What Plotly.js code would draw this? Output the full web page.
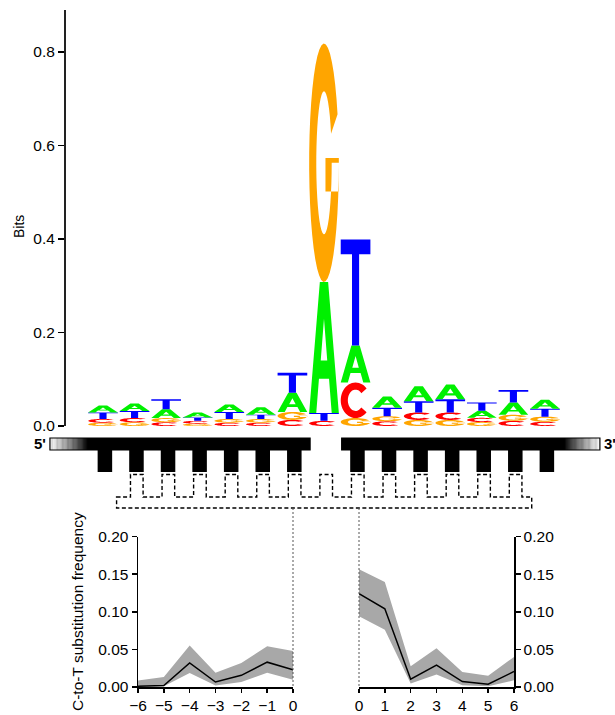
<!DOCTYPE html>
<html><head><meta charset="utf-8">
<script src="https://cdn.plot.ly/plotly-3.0.1.min.js"></script>
<style>html,body{margin:0;padding:0;background:#fff}</style>
</head><body><div id="chart" style="width:615px;height:715px"></div>
<script>
// ---------------- DATA ----------------
const logoColumns = [1,2,3,4,5,6,7,8,9,10,11,12,13,14,15];
const bitsA = [0.015,0.016,0.019,0.011,0.016,0.016,0.041,0.280,0.079,0.024,0.032,0.032,0.015,0.026,0.019];
const bitsC = [0.008,0.009,0.008,0.006,0.007,0.007,0.013,0.011,0.076,0.010,0.016,0.016,0.009,0.011,0.009];
const bitsG = [0.007,0.008,0.009,0.005,0.008,0.008,0.017,0.510,0.017,0.011,0.013,0.013,0.0085,0.013,0.011];
const bitsT = [0.014,0.015,0.021,0.007,0.015,0.009,0.043,0.017,0.227,0.018,0.024,0.028,0.018,0.027,0.017];
const bitTicks = [0, 0.2, 0.4, 0.6, 0.8];
const bitTickText = ['0.0','0.2','0.4','0.6','0.8'];

const topStrandColumns = [1,2,3,4,5,6,7,9,10,11,12,13,14,15];
const bottomStrandColumns = [2,3,4,5,6,7,8,9,10,11,12,13,14];

const upstreamPos = [-6,-5,-4,-3,-2,-1,0];
const upstreamMean  = [0.001,0.002,0.032,0.0066,0.0155,0.033,0.023];
const upstreamUpper = [0.0088,0.0133,0.0553,0.019,0.032,0.054,0.048];
const upstreamLower = [0.0,0.001,0.0186,0.002,0.0066,0.019,0.0097];

const downstreamPos = [0,1,2,3,4,5,6];
const downstreamMean  = [0.124,0.104,0.0103,0.029,0.0072,0.0036,0.0206];
const downstreamUpper = [0.1566,0.1396,0.0277,0.0515,0.020,0.0148,0.040];
const downstreamLower = [0.094,0.076,0.0045,0.0166,0.0022,0.001,0.009];

const freqTicks = [0, 0.05, 0.10, 0.15, 0.20];
const freqTickText = ['0.00','0.05','0.10','0.15','0.20'];

// ---------------- LAYOUT HELPERS ----------------
const W = 615, H = 715;
const py = y => (H - y) / H;   // pixel row -> paper
const px = x => x / W;         // pixel col -> paper
const FONT = 'Liberation Sans, Arial, Helvetica, sans-serif';
const colors = {A:'#00F000', C:'#FF0000', G:'#FFA500', T:'#0000FF'};

// glyph outlines in a unit box (u right, v up)
function arcRing(a0, a1, rix, riy, n) {
  const pts = [];
  for (let i = 0; i <= n; i++) { const t = (a0 + (a1 - a0) * i / n) * Math.PI / 180; pts.push([0.5 + 0.5*Math.cos(t), 0.5 + 0.5*Math.sin(t)]); }
  for (let i = n; i >= 0; i--) { const t = (a0 + (a1 - a0) * i / n) * Math.PI / 180; pts.push([0.5 + rix*Math.cos(t), 0.5 + riy*Math.sin(t)]); }
  return pts;
}
const glyphs = {
  A: [[[0,0],[0.36,1],[0.64,1],[1,0],[0.76,0],[0.67,0.26],[0.33,0.26],[0.24,0]],
      [[0.39,0.40],[0.61,0.40],[0.5,0.72]]],
  T: [[[0,1],[1,1],[1,0.86],[0.62,0.86],[0.62,0],[0.38,0],[0.38,0.86],[0,0.86]]],
  C: [arcRing(42, 318, 0.26, 0.30, 40)],
  G: [arcRing(24, 360, 0.26, 0.30, 40), [[0.55,0.38],[1,0.38],[1,0.52],[0.55,0.52]]]
};
function glyphPath(letter, p, base, h) {
  const hw = 0.47;
  return glyphs[letter].map(r => 'M' + r.map(([u,v]) =>
    (p - hw + u*2*hw).toFixed(5) + ',' + (base + v*h).toFixed(6)).join('L') + 'Z').join('');
}

const shapes = [];
// sequence logo letters, stacked smallest at bottom
logoColumns.forEach((p, i) => {
  const stack = [['A',bitsA[i]],['C',bitsC[i]],['G',bitsG[i]],['T',bitsT[i]]].sort((a,b) => a[1]-b[1]);
  let base = 0;
  stack.forEach(([L, h]) => {
    shapes.push({type:'path', xref:'x', yref:'y', path: glyphPath(L, p, base, h),
      fillcolor: colors[L], line:{width:0}, layer:'above'});
    base += h;
  });
});

// top strand (black comb with gradient ends)
const barTop = py(438), barBot = py(450), toothBot = py(472);
const segs = [[topStrandColumns[0]-1.68, 7.56], [8.56, topStrandColumns[topStrandColumns.length-1]+1.74]];
segs.forEach(([a,b]) => shapes.push({type:'rect', xref:'x', yref:'paper', x0:a, x1:b, y0:barBot, y1:barTop,
  fillcolor:'#000', line:{width:0}}));
function gradient(a, b, fromWhite) {
  const n = 30;
  for (let k = 0; k < n; k++) {
    const f = (k + 0.5) / n;
    const g = fromWhite ? 1 - f : f;
    const c = Math.round(255 * Math.pow(g, 0.8));
    shapes.push({type:'rect', xref:'x', yref:'paper', x0: a + (b-a)*k/n, x1: a + (b-a)*(k+1.3)/n,
      y0:barBot, y1:barTop, fillcolor:`rgb(${c},${c},${c})`, line:{width:0}});
  }
}
gradient(segs[0][0], 0.49, true);
gradient(15.63, segs[1][1], false);
segs.forEach(([a,b]) => shapes.push({type:'rect', xref:'x', yref:'paper', x0:a, x1:b, y0:barBot, y1:barTop,
  fillcolor:'rgba(0,0,0,0)', line:{width:1.2, color:'#000'}}));
topStrandColumns.forEach(c => shapes.push({type:'rect', xref:'x', yref:'paper',
  x0:c+0.06-0.23, x1:c+0.06+0.23, y0:toothBot, y1:barBot+0.001, fillcolor:'#000', line:{width:0}}));

// bottom strand (dashed comb)
(function(){
  const yBase = py(497), yTop = py(474.5), yBottom = py(508);
  const left = bottomStrandColumns[0] - 0.57, right = bottomStrandColumns[bottomStrandColumns.length-1] + 0.58;
  let d = `M${left},${yBase}`;
  bottomStrandColumns.forEach(c => {
    const a = c + 0.07 - 0.2, b = c + 0.07 + 0.2;
    d += `L${a},${yBase}L${a},${yTop}L${b},${yTop}L${b},${yBase}`;
  });
  d += `L${right},${yBase}L${right},${yBottom}L${left},${yBottom}Z`;
  shapes.push({type:'path', xref:'x', yref:'paper', path:d, fillcolor:'rgba(0,0,0,0)',
    line:{width:1.4, color:'#000', dash:'4px,2.5px'}});
})();

// domains
const logoYDomain = [py(426), py(10)];
const leftXDomain = [px(138), px(293)];
const rightXDomain = [px(359), px(514)];
const freqYDomain = [py(687), py(536.5)];
const logoXRange = [1 - 103/31.57, 1 + 512/31.57];

// dotted guides from the strand to each panel's position 0
[leftXDomain[1], rightXDomain[0]].forEach(xp => shapes.push({type:'line', xref:'paper', yref:'paper',
  x0:xp, x1:xp, y0:py(508), y1:freqYDomain[0], line:{width:1, color:'#555', dash:'2px,2px'}}));

function band(xs, lo, hi, xa, ya) {
  return {x: xs.concat(xs.slice().reverse()), y: hi.concat(lo.slice().reverse()), xaxis:xa, yaxis:ya,
    type:'scatter', mode:'lines', fill:'toself', fillcolor:'#A8A8A8', line:{width:0}, hoverinfo:'skip'};
}
const traces = [
  {x: logoColumns, y: logoColumns.map((_,i)=>bitsA[i]+bitsC[i]+bitsG[i]+bitsT[i]), xaxis:'x', yaxis:'y',
    type:'scatter', mode:'markers', marker:{opacity:0}, hoverinfo:'skip'},
  band(upstreamPos, upstreamLower, upstreamUpper, 'x2', 'y2'),
  {x: upstreamPos, y: upstreamMean, xaxis:'x2', yaxis:'y2', type:'scatter', mode:'lines', line:{color:'#000', width:1.5}},
  band(downstreamPos, downstreamLower, downstreamUpper, 'x3', 'y3'),
  {x: downstreamPos, y: downstreamMean, xaxis:'x3', yaxis:'y3', type:'scatter', mode:'lines', line:{color:'#000', width:1.5}}
];

const axisCommon = {showgrid:false, zeroline:false, showline:true, linecolor:'#000', linewidth:1.5,
  ticks:'outside', tickcolor:'#000', tickwidth:1.5, tickfont:{family:FONT, size:15.5, color:'#000'}, fixedrange:true};

const layout = {
  width: W, height: H, margin:{l:0, r:0, t:0, b:0}, paper_bgcolor:'#fff', plot_bgcolor:'rgba(0,0,0,0)',
  showlegend:false, font:{family:FONT, color:'#000'},
  xaxis: {domain:[0,1], range: logoXRange, visible:false, fixedrange:true},
  yaxis: Object.assign({}, axisCommon, {domain: logoYDomain, range:[0, 0.8898], anchor:'free', position: px(64),
    tickvals: bitTicks, ticktext: bitTickText, ticklen:6, linecolor:'#222'}),
  xaxis2: Object.assign({}, axisCommon, {domain: leftXDomain, range:[-6,0], anchor:'y2', tickvals: upstreamPos, ticklen:4}),
  yaxis2: Object.assign({}, axisCommon, {domain: freqYDomain, range:[0,0.2], anchor:'x2', tickvals: freqTicks, ticktext: freqTickText, ticklen:5}),
  xaxis3: Object.assign({}, axisCommon, {domain: rightXDomain, range:[0,6], anchor:'y3', tickvals: downstreamPos, ticklen:4}),
  yaxis3: Object.assign({}, axisCommon, {domain: freqYDomain, range:[0,0.2], anchor:'x3', side:'right', tickvals: freqTicks, ticktext: freqTickText, ticklen:5}),
  shapes: shapes,
  annotations: [
    {text:'Bits', xref:'paper', yref:'paper', x:px(19), y:py(227), textangle:-90, showarrow:false,
      font:{family:FONT, size:14}, xanchor:'center', yanchor:'middle'},
    {text:'C-to-T substitution frequency', xref:'paper', yref:'paper', x:px(77), y:py(612), textangle:-90, showarrow:false,
      font:{family:FONT, size:15.5}, xanchor:'center', yanchor:'middle'},
    {text:"<b>5'</b>", xref:'paper', yref:'paper', x:px(48), y:py(444), showarrow:false, font:{family:FONT, size:15},
      xanchor:'right', yanchor:'middle'},
    {text:"<b>3'</b>", xref:'paper', yref:'paper', x:px(602), y:py(444), showarrow:false, font:{family:FONT, size:15},
      xanchor:'left', yanchor:'middle'}
  ]
};
Plotly.newPlot('chart', traces, layout, {displayModeBar:false, staticPlot:true});
</script></body></html>
